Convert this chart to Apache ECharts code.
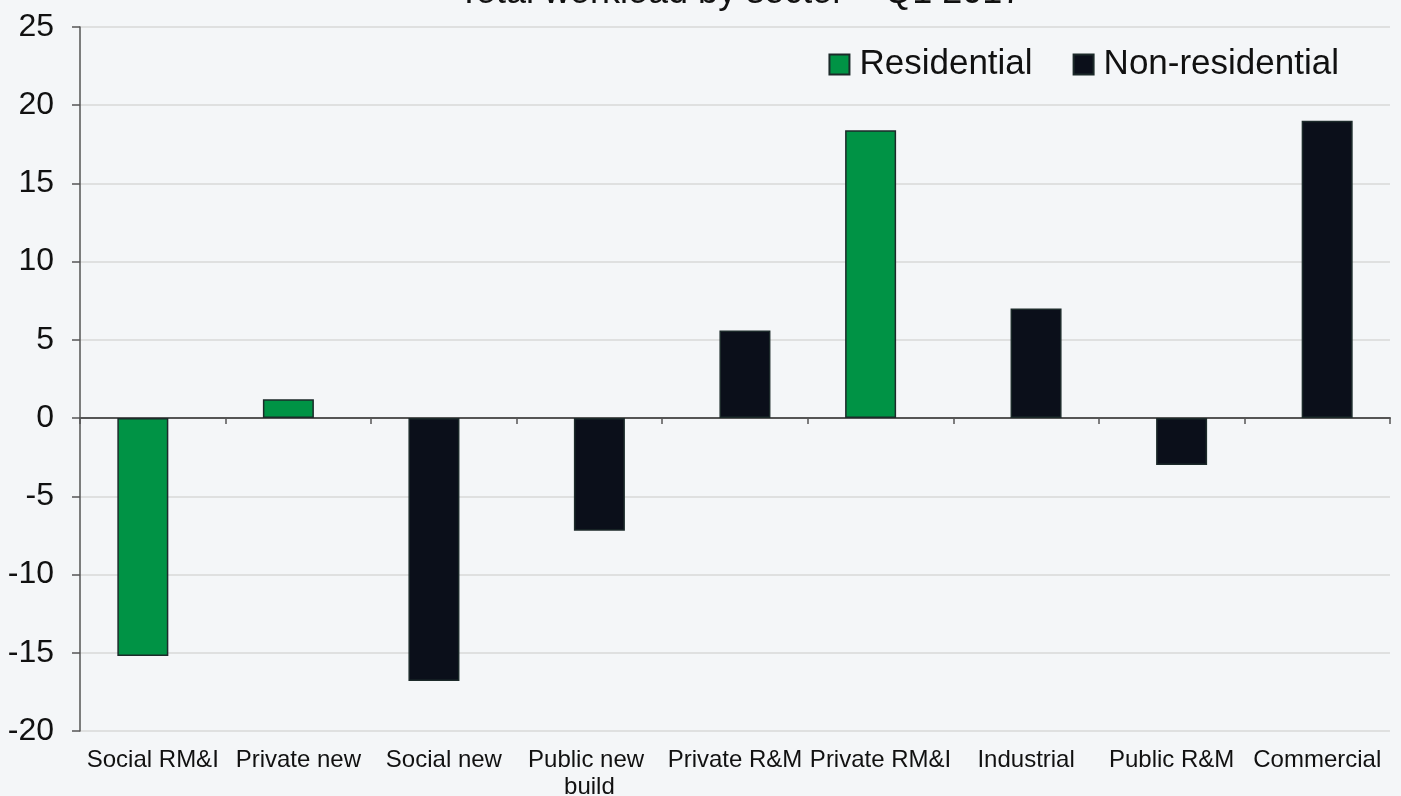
<!DOCTYPE html>
<html>
<head>
<meta charset="utf-8">
<style>
html,body{margin:0;padding:0;background:#f4f6f8;}
#chart{width:1401px;height:796px;}
</style>
<script src="https://cdn.jsdelivr.net/npm/echarts@6/dist/echarts.min.js"></script>
</head>
<body>
<div id="chart"></div>
<script>
const categories = ['Social RM&I', 'Private new', 'Social new', 'Public new build', 'Private R&M', 'Private RM&I', 'Industrial', 'Public R&M', 'Commercial'];
const residential = [-15.2, 1.2, null, null, null, 18.4, null, null, null];
const nonResidential = [null, null, -16.8, -7.2, 5.6, null, 7.0, -3.0, 19.0];
const seriesNames = ['Residential', 'Non-residential'];
const titleText = 'Total workload by sector – Q1 2017';

// bars drawn in the left slot of their category in the reference
const leftSlot = new Set(['Social RM&I', 'Private new', 'Social new', 'Private RM&I']);

const FONT = 'Liberation Sans, Arial, sans-serif';
const GREEN = '#009345';
const DARK = '#0b0f1a';
const border = { borderColor: '#1c2a2a', borderWidth: 1.5 };

const nonResLeft = nonResidential.map((v, i) => leftSlot.has(categories[i]) ? v : null);
const nonResRight = nonResidential.map((v, i) => leftSlot.has(categories[i]) ? null : v);

const chart = echarts.init(document.getElementById('chart'));
chart.setOption({
  backgroundColor: '#f4f6f8',
  animation: false,
  textStyle: { fontFamily: FONT },
  title: {
    text: titleText,
    left: 458,
    top: -25,
    padding: 0,
    textStyle: { fontFamily: FONT, fontSize: 36, fontWeight: 'normal', color: '#111' }
  },
  legend: {
    data: seriesNames,
    right: 57,
    top: 42,
    icon: 'rect',
    itemWidth: 20,
    itemHeight: 20,
    itemGap: 40,
    textStyle: { fontFamily: FONT, fontSize: 35, color: '#111', padding: [0, 0, 0, 5] }
  },
  grid: { left: 80, right: 11, top: 27, bottom: 65, containLabel: false, outerBoundsMode: 'none' },
  xAxis: [
    {
      type: 'category',
      data: categories,
      position: 'bottom',
      axisLine: { show: false, onZero: false },
      axisTick: { show: false },
      splitLine: { show: false },
      axisLabel: {
        interval: 0,
        margin: 16,
        fontFamily: FONT,
        fontSize: 24,
        color: '#111',
        width: 142,
        overflow: 'break',
        lineHeight: 27
      }
    },
    {
      type: 'category',
      data: categories,
      position: 'top',
      axisLine: { show: true, onZero: true, lineStyle: { color: '#555', width: 2 } },
      axisTick: { show: true, inside: true, length: 6, lineStyle: { color: '#555', width: 1.5 } },
      axisLabel: { show: false },
      splitLine: { show: false }
    }
  ],
  yAxis: {
    type: 'value',
    min: -20,
    max: 25,
    interval: 5,
    axisLine: { show: true, lineStyle: { color: '#555', width: 1.5 } },
    axisTick: { show: true, length: 8, lineStyle: { color: '#555', width: 1.5 } },
    splitLine: { show: true, lineStyle: { color: '#d9d9d9', width: 1.5 } },
    axisLabel: { fontFamily: FONT, fontSize: 32, color: '#111', margin: 26 }
  },
  series: [
    {
      name: seriesNames[0], type: 'bar', stack: 'L', xAxisIndex: 0,
      data: residential, barWidth: 51, barGap: '-61%',
      itemStyle: Object.assign({ color: GREEN }, border)
    },
    {
      name: seriesNames[1], type: 'bar', stack: 'L', xAxisIndex: 0,
      data: nonResLeft, barWidth: 51, barGap: '-61%',
      itemStyle: Object.assign({ color: DARK }, border)
    },
    {
      name: seriesNames[1], type: 'bar', stack: 'R', xAxisIndex: 0,
      data: nonResRight, barWidth: 51, barGap: '-61%',
      itemStyle: Object.assign({ color: DARK }, border)
    }
  ]
});
</script>
</body>
</html>
